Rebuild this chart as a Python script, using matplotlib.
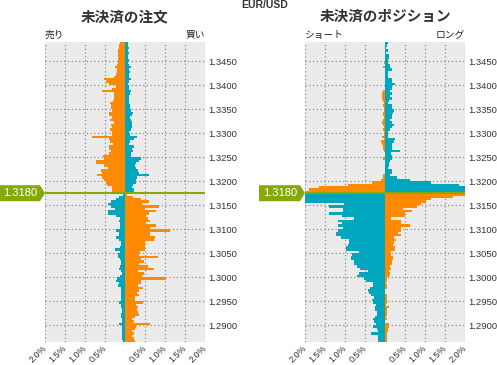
import numpy as np
import matplotlib
matplotlib.use("Agg")
import matplotlib.pyplot as plt
from matplotlib.patches import Polygon
from matplotlib.transforms import IdentityTransform

plt.rcParams['font.family'] = ['Liberation Sans', 'Noto Sans CJK JP', 'DejaVu Sans']

# price buckets (0.0005 wide), current price
step = 0.0005
split = 1.3175
current_label = "1.3180"
n_above = 63
n_below = 62

# open orders: rows listed top -> bottom (above the price), then below the price (top -> bottom)
orders_above_sell = [0.125, 0.14, 0.15, 0.17, 0.17, 0.175, 0.175, 0.175, 0.17, 0.21,
                     0.25, 0.19, 0.21, 0.22, 0.27, 0.52, 0.48, 0.40, 0.23, 0.32,
                     0.57, 0.27, 0.27, 0.28, 0.30, 0.38, 0.35, 0.35, 0.33, 0.40,
                     0.40, 0.32, 0.38, 0.28, 0.35, 0.32, 0.38, 0.32, 0.32, 0.82,
                     0.40, 0.38, 0.30, 0.40, 0.40, 0.36, 0.40, 0.54, 0.52, 0.72,
                     0.72, 0.52, 0.42, 0.60, 0.57, 0.69, 0.58, 0.52, 0.48, 0.46,
                     0.32, 0.33, 0.32]
orders_above_buy = [0.075, 0.067, 0.09, 0.075, 0.09, 0.075, 0.067, 0.09, 0.08, 0.10,
                    0.15, 0.11, 0.12, 0.11, 0.10, 0.15, 0.10, 0.07, 0.10, 0.10,
                    0.15, 0.12, 0.10, 0.11, 0.10, 0.11, 0.12, 0.125, 0.14, 0.20,
                    0.17, 0.12, 0.14, 0.175, 0.17, 0.17, 0.15, 0.10, 0.125, 0.30,
                    0.225, 0.13, 0.10, 0.22, 0.18, 0.20, 0.15, 0.14, 0.39, 0.35,
                    0.27, 0.25, 0.28, 0.33, 0.35, 0.60, 0.31, 0.27, 0.27, 0.20,
                    0.17, 0.225, 0.225]
orders_below_buy = [0.04, 0.15, 0.22, 0.34, 0.42, 0.36, 0.26, 0.42, 0.42, 0.23,
                    0.125, 0.15, 0.125, 0.125, 0.125, 0.22, 0.15, 0.14, 0.22, 0.15,
                    0.10, 0.11, 0.125, 0.25, 0.125, 0.17, 0.175, 0.13, 0.11, 0.11,
                    0.12, 0.15, 0.10, 0.08, 0.125, 0.20, 0.22, 0.15, 0.175, 0.10,
                    0.10, 0.10, 0.10, 0.10, 0.10, 0.15, 0.11, 0.10, 0.075, 0.08,
                    0.11, 0.10, 0.07, 0.08, 0.15, 0.08, 0.07, 0.07, 0.08, 0.07,
                    0.07, 0.04]
orders_below_sell = [0.06, 0.20, 0.39, 0.60, 0.42, 0.85, 0.50, 0.78, 0.60, 0.53,
                     0.58, 0.625, 0.53, 0.77, 0.62, 1.12, 0.625, 0.62, 0.75, 0.72,
                     0.50, 0.49, 0.50, 0.50, 0.375, 0.35, 0.82, 0.41, 0.48, 0.35,
                     0.575, 0.72, 0.325, 0.475, 0.42, 1.02, 0.40, 0.39, 0.325, 0.45,
                     0.35, 0.29, 0.35, 0.25, 0.25, 0.45, 0.27, 0.32, 0.31, 0.325,
                     0.35, 0.25, 0.17, 0.225, 0.625, 0.27, 0.24, 0.18, 0.225, 0.17,
                     0.225, 0.25]

# open positions
pos_above_short = [0, 0, 0, 0, 0, 0, 0, 0, 0.03, 0,
                   0.05, 0, 0, 0, 0, 0, 0, 0, 0, 0,
                   0.06, 0.07, 0.07, 0.07, 0.04, 0.025, 0.04, 0.025, 0.03, 0.04,
                   0.06, 0.03, 0.04, 0.07, 0.05, 0.03, 0.04, 0.025, 0.03, 0.07,
                   0.03, 0.11, 0.07, 0.06, 0.04, 0.03, 0, 0, 0.04, 0,
                   0, 0, 0, 0, 0, 0.06, 0.06, 0.10, 0.33, 0.92,
                   1.65, 1.90, 2.10]
pos_above_long = [0.07, 0.05, 0.02, 0.07, 0.02, 0.10, 0.10, 0.08, 0.08, 0.12,
                  0.13, 0.17, 0.08, 0.08, 0.07, 0.17, 0.18, 0.24, 0.17, 0.17,
                  0.13, 0.17, 0.13, 0.17, 0.10, 0.08, 0.17, 0.17, 0.22, 0.20,
                  0.17, 0.18, 0.12, 0.17, 0.22, 0.17, 0.12, 0.08, 0.08, 0.08,
                  0.24, 0.23, 0.18, 0.17, 0.17, 0.37, 0.15, 0.17, 0.18, 0.13,
                  0.10, 0.10, 0.08, 0.18, 0.18, 0.13, 0.30, 0.62, 1.14, 1.84,
                  2.30, 2.40, 2.50]
pos_below_long = [2.30, 2.20, 2.10, 2.05, 1.03, 1.39, 1.06, 1.04, 1.39, 1.075,
                  0.77, 1.17, 1.075, 1.17, 1.06, 1.17, 1.225, 1.22, 1.10, 0.89,
                  0.89, 0.92, 0.97, 0.97, 0.64, 0.825, 0.85, 0.85, 0.775, 0.775,
                  0.69, 0.62, 0.43, 0.64, 0.69, 0.52, 0.475, 0.31, 0.29, 0.375,
                  0.42, 0.41, 0.35, 0.27, 0.325, 0.31, 0.22, 0.26, 0.24, 0.21,
                  0.19, 0.24, 0.31, 0.275, 0.225, 0.31, 0.21, 0.18, 0.34, 0.17,
                  0.17, 0.17]
pos_below_short = [2.30, 1.69, 1.15, 1.03, 0.90, 0.81, 0.46, 0.675, 0.51, 0.51,
                   0.16, 0.39, 0.41, 0.625, 0.40, 0.40, 0.32, 0.40, 0.23, 0.275,
                   0.23, 0.20, 0.26, 0.26, 0.15, 0.16, 0.21, 0.19, 0.175, 0.175,
                   0.125, 0.15, 0.09, 0.125, 0.11, 0.04, 0.04, 0.025, 0.06, 0.05,
                   0.01, 0.01, 0.04, 0.06, 0.06, 0.04, 0.025, 0.09, 0.04, 0.04,
                   0.06, 0.025, 0.04, 0.01, 0.11, 0.09, 0.075, 0.075, 0.04, 0.06,
                   0.06, 0.06]

xticks = [-2.0, -1.5, -1.0, -0.5, 0.5, 1.0, 1.5, 2.0]
xticklabels = ["2.0%", "1.5%", "1.0%", "0.5%", "0.5%", "1.0%", "1.5%", "2.0%"]
yticks = [1.2900, 1.2950, 1.3000, 1.3050, 1.3100, 1.3150, 1.3200, 1.3250,
          1.3300, 1.3350, 1.3400, 1.3450]

orange = '#FF8A00'
teal = '#00A5BE'
green = '#86A80A'

# bucket lower edges
above_edges = split + step * np.arange(n_above)[::-1]
below_edges = split - step * np.arange(1, n_below + 1)

W, H = 497, 365
fig = plt.figure(figsize=(W / 100, H / 100), dpi=100)

panels = [
    (45, "未決済の注文", "売り", "買い",
     orders_above_sell, orders_above_buy, orders_below_buy, orders_below_sell),
    (305, "未決済のポジション", "ショート", "ロング",
     pos_above_short, pos_above_long, pos_below_long, pos_below_short),
]

for x0, title, lt, rt, a_left, a_right, b_left, b_right in panels:
    ax = fig.add_axes([x0 / W, 23 / H, 160 / W, 300 / H])
    ax.set_facecolor('#EBEBEB')
    ax.barh(above_edges, -np.array(a_left), height=step, align='edge',
            color=orange, linewidth=0)
    ax.barh(above_edges, a_right, height=step, align='edge',
            color=teal, linewidth=0)
    ax.barh(below_edges, -np.array(b_left), height=step, align='edge',
            color=teal, linewidth=0)
    ax.barh(below_edges, b_right, height=step, align='edge',
            color=orange, linewidth=0)
    ax.set_xlim(-2.0, 2.0)
    ax.set_ylim(below_edges[-1], above_edges[0] + step)
    ax.set_xticks(xticks)
    ax.set_xticklabels(xticklabels, rotation=45, ha='right', va='center',
                       rotation_mode='anchor', fontsize=6.5, color='#333333')
    ax.set_yticks(yticks)
    ax.set_yticklabels(["%.4f" % v for v in yticks], fontsize=6.8, color='#333333')
    ax.yaxis.tick_right()
    ax.tick_params(axis='both', length=0)
    ax.tick_params(axis='x', pad=3)
    ax.tick_params(axis='y', pad=2.5)
    ax.set_axisbelow(True)
    ax.grid(True, color='#8C8C8C', linestyle=(0, (1, 2)), linewidth=0.9)
    for s in ax.spines.values():
        s.set_visible(False)
    ax.axhline(split, color=green, linewidth=1.5, zorder=5)

    ax.text(0.5, 1.083, title, transform=ax.transAxes, ha='center', va='center',
            fontsize=10.5, fontweight='bold', color='#333333')
    ax.text(0.0, 1.008, lt, transform=ax.transAxes, ha='left', va='bottom',
            fontsize=7, color='#222222')
    ax.text(1.0, 1.008, rt, transform=ax.transAxes, ha='right', va='bottom',
            fontsize=7, color='#222222')

    # price flag on the left of the panel
    fig.canvas.draw()
    yd = ax.transData.transform((0, split))[1]
    xd = ax.transAxes.transform((0, 0))[0]
    flag = Polygon([(xd - 46, yd + 8), (xd - 5, yd + 8), (xd, yd),
                    (xd - 5, yd - 8), (xd - 46, yd - 8)],
                   closed=True, facecolor=green, edgecolor='none',
                   transform=IdentityTransform())
    fig.add_artist(flag)
    fig.text((xd - 25) / W, yd / H, current_label, ha='center', va='center',
             fontsize=8, color='white')

fig.text(265 / W, 1 - 5 / H, "EUR/USD", ha='center', va='center',
         fontsize=7.5, fontweight='bold', color='#333333')

fig.savefig("out.png", dpi=100)
